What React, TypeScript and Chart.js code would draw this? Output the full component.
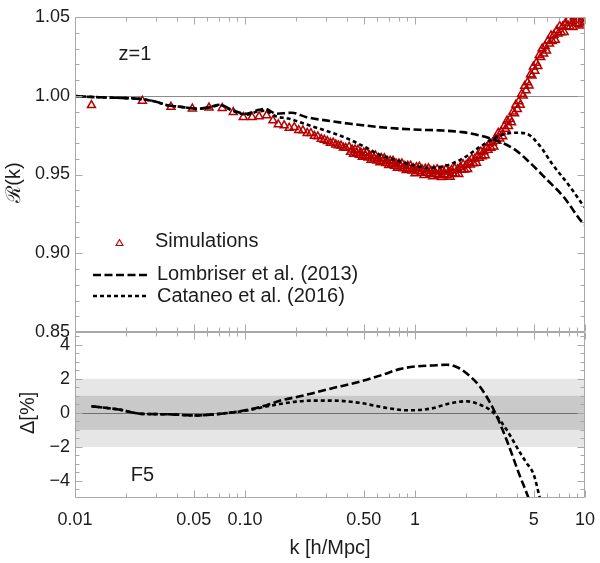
import React, { useEffect, useRef } from 'react';
import { Chart, registerables } from 'chart.js';

Chart.register(...registerables);

const FONT = '"Liberation Sans", Arial, sans-serif';
const INK = '#1c1c1c';
const FRAME = '#a8a8a8';
const SIM_RED = 'rgb(182, 0, 0)';
const LOMBRISER_DASH = [8, 3.5];
const CATANEO_DASH = [4, 3];

// Axis ticks
const kTicks = [0.01, 0.05, 0.1, 0.5, 1, 5, 10];
const kTickLabels = ['0.01', '0.05', '0.10', '0.50', '1', '5', '10'];
const ratioTicks = [0.85, 0.9, 0.95, 1.0, 1.05];
const ratioTickLabels = ['0.85', '0.90', '0.95', '1.00', '1.05'];
const deltaTicks = [-4, -2, 0, 2, 4];
const deltaTickLabels = ['\u22124', '\u22122', '0', '2', '4'];

// Simulation measurements of R(k)
const simK = [
  0.0125, 0.0249, 0.0367, 0.049, 0.0614, 0.0735, 0.0853, 0.0977,
  0.110, 0.121, 0.134, 0.146, 0.157, 0.170, 0.182, 0.195,
  0.207, 0.219, 0.232, 0.244, 0.256, 0.268, 0.281, 0.293,
  0.305, 0.318, 0.330, 0.342, 0.354, 0.367, 0.379, 0.391,
  0.41, 0.418, 0.427, 0.435, 0.444, 0.453, 0.462, 0.471, 0.48, 0.49,
  0.5, 0.51, 0.52, 0.53, 0.541, 0.552, 0.563, 0.574, 0.586, 0.597,
  0.609, 0.622, 0.634, 0.647, 0.66, 0.673, 0.686, 0.7, 0.714, 0.728,
  0.743, 0.758, 0.773, 0.788, 0.804, 0.82, 0.837, 0.853, 0.871, 0.888,
  0.906, 0.924, 0.942, 0.961, 0.98, 1.0, 1.02, 1.04, 1.06, 1.08,
  1.1, 1.13, 1.15, 1.17, 1.2, 1.22, 1.24, 1.27, 1.29, 1.32,
  1.35, 1.37, 1.4, 1.43, 1.46, 1.49, 1.52, 1.55, 1.58, 1.61,
  1.64, 1.67, 1.71, 1.74, 1.78, 1.81, 1.85, 1.89, 1.92, 1.96,
  2.0, 2.04, 2.08, 2.12, 2.16, 2.21, 2.25, 2.3, 2.34, 2.39,
  2.44, 2.49, 2.54, 2.59, 2.64, 2.69, 2.75, 2.8, 2.86, 2.91,
  2.97, 3.03, 3.09, 3.15, 3.22, 3.28, 3.35, 3.41, 3.48, 3.55,
  3.62, 3.7, 3.77, 3.85, 3.92, 4.0, 4.08, 4.16, 4.24, 4.33,
  4.42, 4.5, 4.59, 4.69, 4.78, 4.88, 4.97, 5.07, 5.17, 5.28,
  5.38, 5.49, 5.6, 5.71, 5.83, 5.94, 6.06, 6.18, 6.31, 6.43,
  6.56, 6.69, 6.83, 6.96, 7.1, 7.25, 7.39, 7.54, 7.69, 7.84,
  8.0, 8.16, 8.33, 8.49, 8.66, 8.84, 9.01, 9.19, 9.38, 9.57,
  9.76, 9.95,
];
const simR = [
  0.9940, 0.9967, 0.9929, 0.9918, 0.9924, 0.9921, 0.9896, 0.9864,
  0.9864, 0.9868, 0.9875, 0.9843, 0.9818, 0.9812, 0.9796, 0.9800,
  0.9781, 0.9779, 0.9763, 0.9762, 0.9744, 0.9741, 0.9725, 0.9720,
  0.9712, 0.9700, 0.9701, 0.9690, 0.9684, 0.9683, 0.9670, 0.9668,
  0.9675, 0.9643, 0.9658, 0.9630, 0.9658, 0.9636, 0.9656, 0.9624, 0.9639, 0.9611,
  0.9639, 0.9618, 0.9638, 0.9606, 0.9621, 0.9593, 0.9621, 0.9600, 0.9620, 0.9588,
  0.9604, 0.9576, 0.9604, 0.9583, 0.9603, 0.9571, 0.9587, 0.9559, 0.9587, 0.9566,
  0.9586, 0.9555, 0.9570, 0.9542, 0.9570, 0.9550, 0.9570, 0.9539, 0.9554, 0.9527,
  0.9555, 0.9535, 0.9555, 0.9524, 0.9539, 0.9506, 0.9545, 0.9520, 0.9549, 0.9510,
  0.9532, 0.9496, 0.9536, 0.9510, 0.9539, 0.9500, 0.9523, 0.9488, 0.9528, 0.9503,
  0.9533, 0.9494, 0.9517, 0.9483, 0.9524, 0.9501, 0.9532, 0.9494, 0.9519, 0.9485,
  0.9528, 0.9506, 0.9540, 0.9503, 0.9532, 0.9502, 0.9548, 0.9529, 0.9564, 0.9531,
  0.9560, 0.9533, 0.9580, 0.9563, 0.9600, 0.9570, 0.9600, 0.9574, 0.9621, 0.9605,
  0.9644, 0.9615, 0.9647, 0.9621, 0.9671, 0.9656, 0.9698, 0.9668, 0.9703, 0.9677,
  0.9728, 0.9713, 0.9764, 0.9728, 0.9772, 0.9741, 0.9806, 0.9789, 0.9842, 0.9807,
  0.9852, 0.9830, 0.9898, 0.9888, 0.9943, 0.9914, 0.9964, 0.9941, 1.0011, 1.0001,
  1.0062, 1.0033, 1.0084, 1.0064, 1.0135, 1.0127, 1.0185, 1.0158, 1.0208, 1.0187,
  1.0257, 1.0244, 1.0300, 1.0267, 1.0314, 1.0286, 1.0349, 1.0331, 1.0382, 1.0346,
  1.0386, 1.0354, 1.0415, 1.0394, 1.0442, 1.0402, 1.0439, 1.0404, 1.0463, 1.0439,
  1.0483, 1.0439, 1.0474, 1.0436, 1.0489, 1.0461, 1.0501, 1.0454, 1.0485, 1.0444,
  1.0495, 1.0465,
];

// Lombriser et al. (2013) prediction
const lombriserK = [
  0.01, 0.014, 0.02, 0.024, 0.03, 0.035, 0.043, 0.052,
  0.062, 0.071, 0.085, 0.102, 0.117, 0.131, 0.153, 0.188,
  0.23, 0.33, 0.415, 0.5, 0.62, 0.8, 1.07, 1.4,
  1.9, 2.4, 3.0, 3.8, 4.7, 5.9, 7.5, 9.6, 10,
];
const lombriserR = [
  0.9998, 0.9990, 0.9985, 0.9980, 0.9962, 0.9940, 0.9928, 0.9917,
  0.9928, 0.9943, 0.9907, 0.9886, 0.9907, 0.9917, 0.9886, 0.9892,
  0.9864, 0.9837, 0.9822, 0.9812, 0.9801, 0.9791, 0.9784, 0.9780,
  0.9769, 0.9748, 0.9716, 0.9664, 0.9579, 0.9473, 0.9357, 0.9198, 0.9180,
];

// Cataneo et al. (2016) prediction
const cataneoK = [
  0.01, 0.014, 0.02, 0.024, 0.03, 0.035, 0.043, 0.052,
  0.062, 0.071, 0.085, 0.102, 0.117, 0.131, 0.153, 0.18,
  0.21, 0.25, 0.3, 0.36, 0.42, 0.5, 0.62, 0.78,
  0.98, 1.22, 1.54, 1.9, 2.4, 3.0, 3.5, 3.96,
  4.5, 5.4, 6.4, 8.2, 9.6, 10,
];
const cataneoR = [
  0.9998, 0.9990, 0.9985, 0.9980, 0.9962, 0.9940, 0.9928, 0.9917,
  0.9926, 0.9940, 0.9903, 0.9880, 0.9898, 0.9905, 0.9868, 0.9855,
  0.9832, 0.9805, 0.9778, 0.9748, 0.9718, 0.9678, 0.9625, 0.9590,
  0.9558, 0.9543, 0.9558, 0.9600, 0.9674, 0.9737, 0.9760, 0.9765,
  0.9760, 0.9685, 0.9568, 0.9420, 0.9315, 0.9290,
];

// Relative deviation from the simulations, in per cent
const lombriserDeltaK = [
  0.0125, 0.018, 0.025, 0.035, 0.05, 0.06, 0.08, 0.1,
  0.134, 0.165, 0.21, 0.26, 0.33, 0.42, 0.52, 0.65,
  0.81, 1.02, 1.25, 1.54, 1.8, 2.0, 2.4, 2.9,
  3.45, 4.1, 4.65, 5.0,
];
const lombriserDelta = [
  0.39, 0.20, -0.06, -0.08, -0.15, -0.12, 0.0, 0.15,
  0.45, 0.75, 0.97, 1.20, 1.46, 1.70, 1.95, 2.25,
  2.57, 2.73, 2.78, 2.83, 2.65, 2.34, 1.56, 0.20,
  -1.56, -3.60, -5.0, -6.0,
];
const cataneoDeltaK = [
  0.0125, 0.018, 0.025, 0.035, 0.05, 0.06, 0.08, 0.1,
  0.13, 0.16, 0.2, 0.25, 0.33, 0.47, 0.68, 0.91,
  1.22, 1.6, 2.0, 2.4, 2.9, 3.45, 4.1, 4.5,
  4.98, 5.43, 6.0,
];
const cataneoDelta = [
  0.39, 0.20, -0.06, -0.08, -0.15, -0.12, 0.0, 0.12,
  0.35, 0.52, 0.66, 0.72, 0.72, 0.59, 0.29, 0.15,
  0.24, 0.55, 0.68, 0.49, 0.0, -0.98, -2.25, -2.90,
  -3.60, -5.0, -6.5,
];

const toleranceInner = 1;
const toleranceOuter = 2;
const redshiftLabel = 'z=1';
const modelLabel = 'F5';

// Minor frame ticks
const ratioMinor: number[] = [];
for (let i = 86; i < 105; i++) if (i % 5 !== 0) ratioMinor.push(i / 100);
const deltaMinor: number[] = [];
for (let v = -4.5; v <= 4.5; v += 0.5) if (!deltaTicks.includes(v)) deltaMinor.push(v);
const kMinor: number[] = [];
for (const d of [0.01, 0.1, 1]) for (let m = 2; m <= 9; m++) if (m !== 5) kMinor.push(m * d);

const pairs = (xs: number[], ys: number[]) => xs.map((x, i) => ({ x, y: ys[i] }));

const curve = (dash: number[]) => ({
  borderColor: '#000',
  borderWidth: 2.6,
  borderDash: dash,
  pointRadius: 0,
  fill: false,
  tension: 0.4,
  cubicInterpolationMode: 'monotone' as const,
});

function triangle(ctx: CanvasRenderingContext2D, x: number, y: number, r: number) {
  ctx.beginPath();
  for (let i = 0; i < 3; i++) {
    const a = (i * 2 * Math.PI) / 3;
    const px = x + Math.sin(a) * r;
    const py = y - Math.cos(a) * r;
    if (i === 0) ctx.moveTo(px, py);
    else ctx.lineTo(px, py);
  }
  ctx.closePath();
  ctx.stroke();
}

const panelPlugin = {
  id: 'panelDecor',
  beforeDatasetsDraw(chart: any) {
    const { ctx, chartArea: a, scales } = chart;
    const yb = scales.yBot;
    const yt = scales.yTop;
    const w = a.right - a.left;
    ctx.save();
    const o1 = yb.getPixelForValue(toleranceOuter);
    const o2 = yb.getPixelForValue(-toleranceOuter);
    ctx.fillStyle = '#e6e6e6';
    ctx.fillRect(a.left, o1, w, o2 - o1);
    const i1 = yb.getPixelForValue(toleranceInner);
    const i2 = yb.getPixelForValue(-toleranceInner);
    ctx.fillStyle = '#c9c9c9';
    ctx.fillRect(a.left, i1, w, i2 - i1);

    ctx.lineWidth = 1;
    ctx.strokeStyle = '#6e6e6e';
    const z = Math.round(yb.getPixelForValue(0)) + 0.5;
    ctx.beginPath();
    ctx.moveTo(a.left, z);
    ctx.lineTo(a.right, z);
    ctx.stroke();
    ctx.strokeStyle = '#8c8c8c';
    const one = Math.round(yt.getPixelForValue(1)) + 0.5;
    ctx.beginPath();
    ctx.moveTo(a.left, one);
    ctx.lineTo(a.right, one);
    ctx.stroke();
    ctx.restore();
  },
  afterDraw(chart: any) {
    const { ctx, chartArea: a, scales } = chart;
    const xs = scales.x;
    const L = Math.round(a.left) + 0.5;
    const R = Math.round(a.right) - 0.5;
    ctx.save();
    ctx.strokeStyle = FRAME;
    ctx.lineWidth = 1;
    ctx.setLineDash([]);
    ctx.beginPath();
    const seg = (x1: number, y1: number, x2: number, y2: number) => {
      ctx.moveTo(x1, y1);
      ctx.lineTo(x2, y2);
    };
    const panels = [
      { s: scales.yTop, major: ratioTicks, minor: ratioMinor },
      { s: scales.yBot, major: deltaTicks, minor: deltaMinor },
    ];
    for (const p of panels) {
      const top = Math.round(p.s.top) + 0.5;
      const bot = Math.round(p.s.bottom) - 0.5;
      ctx.rect(L, top, R - L, bot - top);
      const yTick = (v: number, len: number) => {
        const y = Math.round(p.s.getPixelForValue(v)) + 0.5;
        seg(L, y, L + len, y);
        seg(R, y, R - len, y);
      };
      p.major.forEach((v) => yTick(v, 7));
      p.minor.forEach((v) => yTick(v, 4));
      const xTick = (v: number, len: number) => {
        const x = Math.round(xs.getPixelForValue(v)) + 0.5;
        seg(x, top, x, top + len);
        seg(x, bot, x, bot - len);
      };
      kTicks.forEach((v) => xTick(v, 7));
      kMinor.forEach((v) => xTick(v, 4));
    }
    ctx.stroke();

    // annotations
    ctx.fillStyle = INK;
    ctx.font = `20px ${FONT}`;
    ctx.textBaseline = 'middle';
    ctx.textAlign = 'center';
    ctx.fillText(redshiftLabel, 135, 54);
    ctx.fillText(modelLabel, 142.5, 475);
    ctx.fillText('k [h/Mpc]', (a.left + a.right) / 2, 548);

    ctx.save();
    ctx.translate(14, (scales.yTop.top + scales.yTop.bottom) / 2 + 8);
    ctx.rotate(-Math.PI / 2);
    ctx.fillText('\u211B(k)', 0, 0);
    ctx.restore();
    ctx.save();
    ctx.translate(28, scales.yBot.getPixelForValue(0));
    ctx.rotate(-Math.PI / 2);
    ctx.fillText('\u0394[%]', 0, 0);
    ctx.restore();

    // legend
    ctx.textAlign = 'left';
    ctx.strokeStyle = SIM_RED;
    ctx.lineWidth = 1.1;
    triangle(ctx, 119.5, 243.5, 4);
    ctx.fillText('Simulations', 155, 241);
    ctx.strokeStyle = '#000';
    ctx.lineWidth = 2.6;
    ctx.setLineDash(LOMBRISER_DASH);
    ctx.beginPath();
    ctx.moveTo(93, 275);
    ctx.lineTo(149, 275);
    ctx.stroke();
    ctx.fillText('Lombriser et al. (2013)', 157, 274.5);
    ctx.setLineDash(CATANEO_DASH);
    ctx.beginPath();
    ctx.moveTo(93, 296);
    ctx.lineTo(149, 296);
    ctx.stroke();
    ctx.fillText('Cataneo et al. (2016)', 157, 296.5);
    ctx.restore();
  },
};

export default function App() {
  const ref = useRef<HTMLCanvasElement>(null);

  useEffect(() => {
    const tickFont = { family: FONT, size: 18 };
    const chart = new Chart(ref.current!, {
      type: 'line',
      data: {
        datasets: [
          { label: 'Lombriser et al. (2013)', data: pairs(lombriserK, lombriserR), yAxisID: 'yTop', ...curve(LOMBRISER_DASH) },
          { label: 'Cataneo et al. (2016)', data: pairs(cataneoK, cataneoR), yAxisID: 'yTop', ...curve(CATANEO_DASH) },
          { label: 'Lombriser et al. (2013) \u0394', data: pairs(lombriserDeltaK, lombriserDelta), yAxisID: 'yBot', ...curve(LOMBRISER_DASH) },
          { label: 'Cataneo et al. (2016) \u0394', data: pairs(cataneoDeltaK, cataneoDelta), yAxisID: 'yBot', ...curve(CATANEO_DASH) },
          {
            label: 'Simulations',
            data: pairs(simK, simR),
            yAxisID: 'yTop',
            showLine: false,
            pointStyle: 'triangle',
            pointRadius: 4.6,
            pointBorderColor: SIM_RED,
            pointBackgroundColor: 'rgba(255,255,255,0)',
            pointBorderWidth: 1.5,
          },
        ],
      },
      options: {
        responsive: false,
        devicePixelRatio: 1,
        animation: false,
        events: [],
        layout: { padding: { left: 0, right: 15, top: 17, bottom: 0 } },
        plugins: { legend: { display: false }, tooltip: { enabled: false } },
        scales: {
          x: {
            type: 'logarithmic',
            position: 'bottom',
            min: 0.01,
            max: 10,
            grid: { display: false, drawTicks: false },
            border: { display: false },
            afterBuildTicks: (s: any) => {
              s.ticks = kTicks.map((v) => ({ value: v }));
            },
            afterFit: (s: any) => {
              s.height = 65;
              s.paddingLeft = 0;
              s.paddingRight = 0;
            },
            ticks: {
              autoSkip: false,
              maxRotation: 0,
              padding: 11,
              color: INK,
              font: tickFont,
              callback: (_v: any, i: number) => kTickLabels[i],
            },
          },
          yTop: {
            type: 'linear',
            position: 'left',
            stack: 'panels',
            stackWeight: 315,
            weight: 1,
            min: 0.85,
            max: 1.05,
            grid: { display: false, drawTicks: false },
            border: { display: false },
            afterBuildTicks: (s: any) => {
              s.ticks = ratioTicks.map((v) => ({ value: v }));
            },
            afterFit: (s: any) => {
              s.width = 75;
            },
            ticks: {
              autoSkip: false,
              padding: 5,
              color: INK,
              font: tickFont,
              callback: (_v: any, i: number) => ratioTickLabels[i],
            },
          },
          yBot: {
            type: 'linear',
            position: 'left',
            stack: 'panels',
            stackWeight: 166,
            weight: 0,
            min: -5,
            max: 4.75,
            grid: { display: false, drawTicks: false },
            border: { display: false },
            afterBuildTicks: (s: any) => {
              s.ticks = deltaTicks.map((v) => ({ value: v }));
            },
            afterFit: (s: any) => {
              s.width = 75;
            },
            ticks: {
              autoSkip: false,
              padding: 5,
              color: INK,
              font: tickFont,
              callback: (_v: any, i: number) => deltaTickLabels[i],
            },
          },
        },
      } as any,
      plugins: [panelPlugin],
    });
    return () => chart.destroy();
  }, []);

  return (
    <div style={{ position: 'absolute', left: 0, top: 0, width: 600, height: 563, background: '#fff' }}>
      <canvas ref={ref} width={600} height={563} style={{ display: 'block', width: 600, height: 563 }} />
    </div>
  );
}
